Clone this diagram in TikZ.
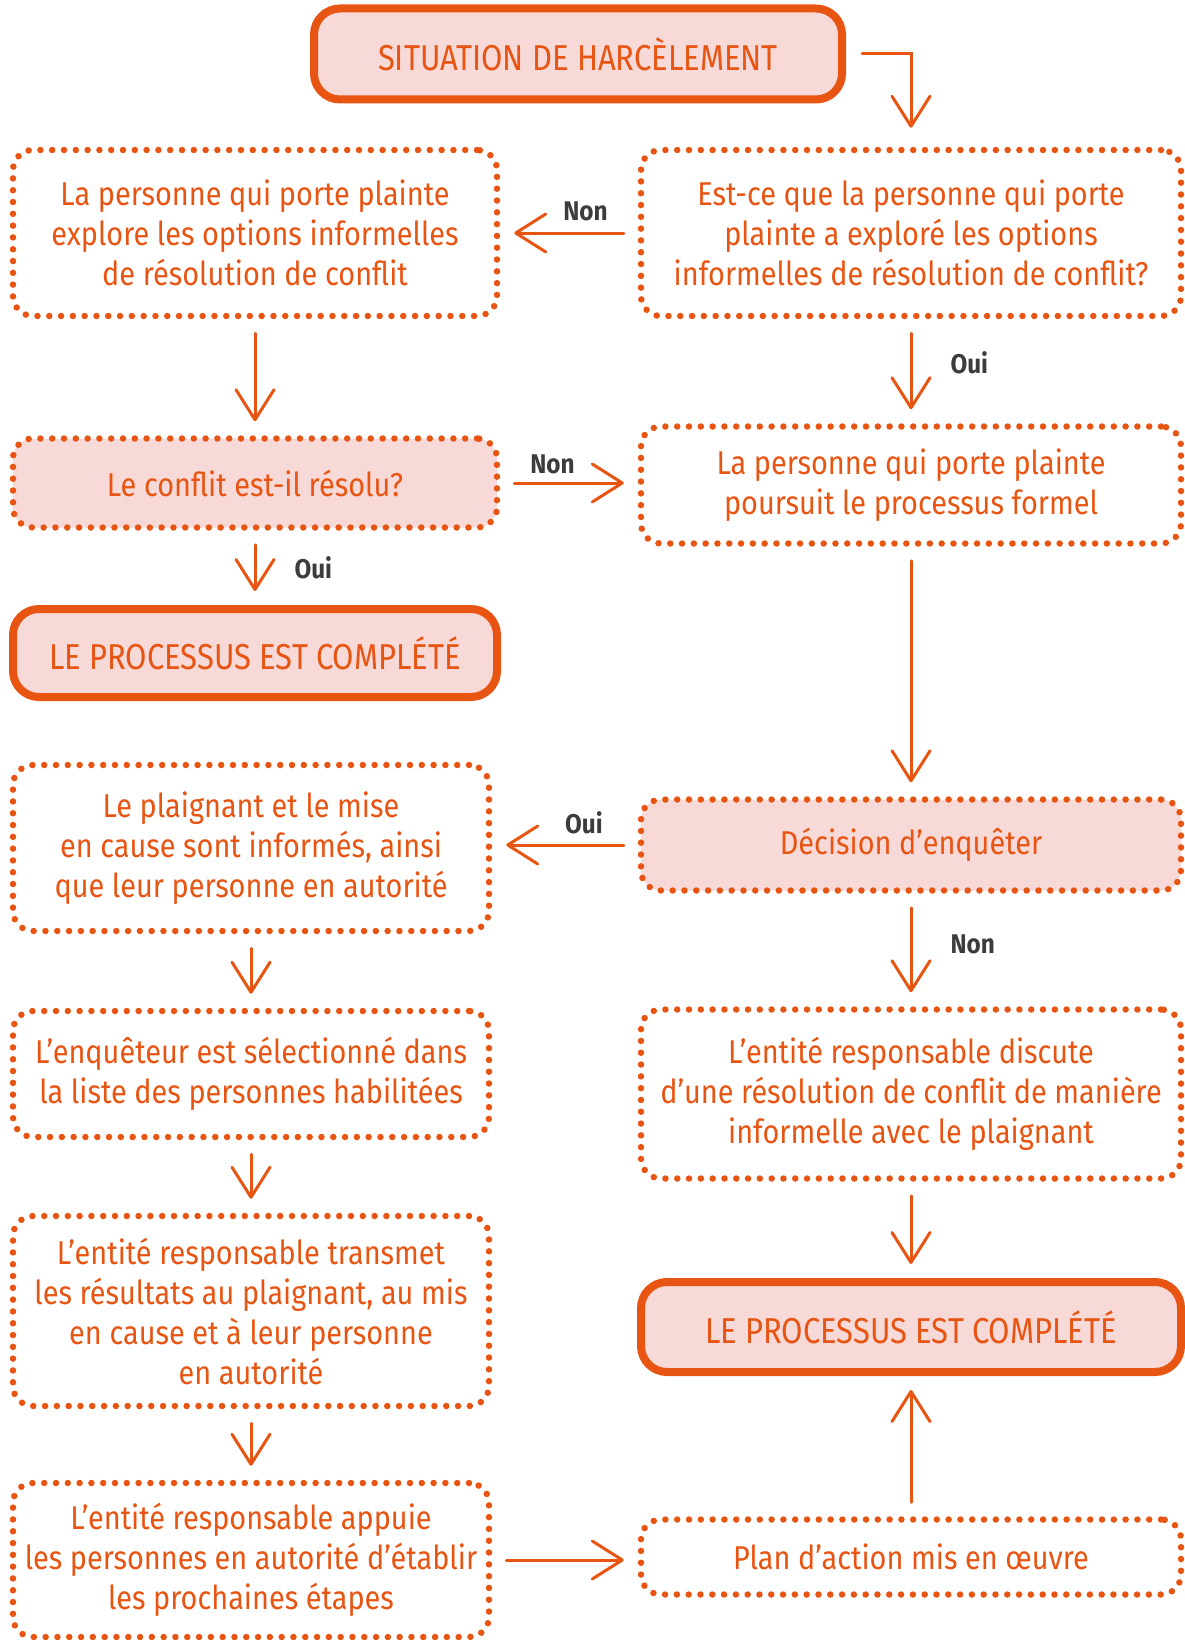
\documentclass[tikz,border=0pt]{standalone}
\usepackage{fontspec}
\setmainfont{Fira Sans}[FakeStretch=0.875]
\newfontfamily\titlefont{Fira Sans}[FakeStretch=0.86]
\newfontfamily\lblfont{Fira Sans}[FakeStretch=0.9]
\usetikzlibrary{arrows.meta}
\definecolor{orng}{HTML}{E85412}
\definecolor{pnk}{HTML}{F7D9D7}
\definecolor{lblgray}{HTML}{3C3C3C}
\begin{document}
\begin{tikzpicture}[x=1pt,y=-1pt,
    dotbox/.style={draw=orng, line width=6.5pt, dash pattern=on 0pt off 11.8pt, line cap=round,
        rounded corners=20pt, inner sep=0pt, align=center, text=orng,
        font=\fontsize{33}{40}\selectfont},
    endbox/.style={draw=orng, line width=8pt, fill=pnk, rounded corners=26pt, inner sep=0pt,
        align=center, text=orng, font=\titlefont\fontsize{36}{40}\selectfont},
    arr/.style={draw=orng, line width=3pt, line cap=round,
        -{Straight Barb[length=30pt,width=38pt,round]}, shorten <=14pt, shorten >=14pt},
    lbl/.style={text=lblgray, font=\lblfont\bfseries\fontsize{27}{30}\selectfont, inner sep=2pt}]
    \useasboundingbox (0,0) rectangle (1185,1640);
    % top
    \node[endbox, minimum width=528pt, minimum height=91pt] (start) at (578,54) {SITUATION DE HARCÈLEMENT};
    % right column
    \node[dotbox, minimum width=540pt, minimum height=166pt] (ask) at (911,233)
        {Est-ce que la personne qui porte\\plainte a exploré les options\\informelles de résolution de conflit?};
    \node[dotbox, minimum width=540pt, minimum height=117pt] (formal) at (911,485)
        {La personne qui porte plainte\\poursuit le processus formel};
    \node[dotbox, fill=pnk, minimum width=540pt, minimum height=91pt] (decide) at (911,845)
        {Décision d’enquêter};
    \node[dotbox, minimum width=540pt, minimum height=169pt] (discuss) at (911,1094)
        {L’entité responsable discute\\d’une résolution de conflit de manière\\informelle avec le plaignant};
    \node[endbox, minimum width=540pt, minimum height=90pt] (doneR) at (911,1327) {LE PROCESSUS EST COMPLÉTÉ};
    \node[dotbox, minimum width=540pt, minimum height=75pt] (plan) at (911,1557)
        {Plan d’action mis en œuvre};
    % left column
    \node[dotbox, minimum width=484pt, minimum height=166pt] (explore) at (255,233)
        {La personne qui porte plainte\\explore les options informelles\\de résolution de conflit};
    \node[dotbox, fill=pnk, minimum width=484pt, minimum height=89pt] (solved) at (255,483)
        {Le conflit est-il résolu?};
    \node[endbox, minimum width=484pt, minimum height=88pt] (doneL) at (255,653) {LE PROCESSUS EST COMPLÉTÉ};
    \node[dotbox, minimum width=476pt, minimum height=166pt] (inform) at (251,848)
        {Le plaignant et le mise\\en cause sont informés, ainsi\\que leur personne en autorité};
    \node[dotbox, minimum width=476pt, minimum height=126pt] (pick) at (251,1074)
        {L’enquêteur est sélectionné dans\\la liste des personnes habilitées};
    \node[dotbox, minimum width=476pt, minimum height=190pt] (report) at (251,1311)
        {L’entité responsable transmet\\les résultats au plaignant, au mis\\en cause et à leur personne\\en autorité};
    \node[dotbox, minimum width=476pt, minimum height=154pt] (support) at (251,1560)
        {L’entité responsable appuie\\les personnes en autorité d’établir\\les prochaines étapes};
    % arrows
    \draw[arr, shorten <=16pt, shorten >=19pt] (start.east) -| (ask.north);
    \draw[arr] (ask) -- node[lbl, above=9pt, pos=0.38] (no1) {Non} (explore);
    \draw[arr] (ask) -- node[lbl, right=36pt, pos=0.42] (yes1) {Oui} (formal);
    \draw[arr] (explore) -- (solved);
    \draw[arr] (solved) -- node[lbl, above=6pt, pos=0.38] (no2) {Non} (formal.west |- solved);
    \draw[arr] (solved) -- node[lbl, right=36pt, pos=0.5] (yes2) {Oui} (doneL);
    \draw[arr] (formal) -- (decide);
    \draw[arr] (decide) -- node[lbl, above=8pt, pos=0.37] (yes3) {Oui} (inform.east |- decide);
    \draw[arr] (decide) -- node[lbl, right=36pt, pos=0.45] (no3) {Non} (discuss);
    \draw[arr] (discuss) -- (doneR);
    \draw[arr] (plan) -- (doneR);
    \draw[arr] (inform) -- (pick);
    \draw[arr] (pick) -- (report);
    \draw[arr] (report) -- (support);
    \draw[arr] (support) -- (plan.west |- support);
\end{tikzpicture}
\end{document}
